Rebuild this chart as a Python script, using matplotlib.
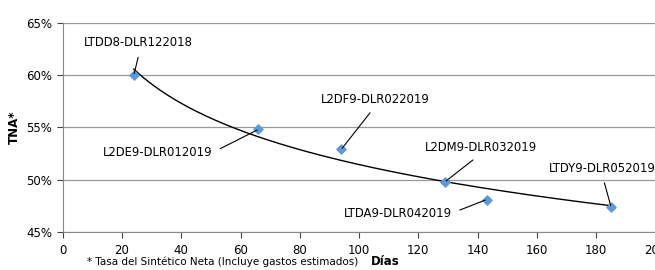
import numpy as np
import matplotlib
matplotlib.use("Agg")
import matplotlib.pyplot as plt
from matplotlib.ticker import FuncFormatter

# plazo (dias) vs TNA
labels = ['LTDD8-DLR122018', 'L2DE9-DLR012019', 'L2DF9-DLR022019',
          'L2DM9-DLR032019', 'LTDA9-DLR042019', 'LTDY9-DLR052019']
dias = [24, 66, 94, 129, 143, 185]
tna = [60.0, 54.8, 52.9, 49.8, 48.1, 47.4]

# label placement (data coords), alignment and leader start on the text box
label_pos = [(25.4, 63.1, 'center', (0.52, 0.0)), (50.6, 52.6, 'right', (1.0, 0.5)),
             (105.6, 57.7, 'center', (0.5, 0.0)), (141.1, 53.1, 'center', (0.5, 0.0)),
             (131.3, 46.8, 'right', (1.0, 0.5)), (164.0, 51.1, 'left', (0.5, 0.0))]

plt.rcParams['font.family'] = ['DejaVu Sans']
fig = plt.figure(figsize=(6.55, 2.7), dpi=100)
ax = fig.add_axes([0.0957, 0.1407, 0.905, 0.775])

# logarithmic trendline
a, b = np.polyfit(np.log(dias), tna, 1)
xs = np.linspace(min(dias), max(dias), 200)
ax.plot(xs, a * np.log(xs) + b, color='black', lw=1, zorder=2)

ax.scatter(dias, tna, marker='D', s=22, color='#5B9BD5', zorder=3)

for name, x, y, (tx, ty, ha, rp) in zip(labels, dias, tna, label_pos):
    ax.annotate(name, xy=(x, y), xytext=(tx, ty), ha=ha, va='center',
                fontsize=8.4, color='black',
                arrowprops=dict(arrowstyle='-', color='black', lw=0.8,
                                relpos=rp, shrinkA=4, shrinkB=1))

ax.set_xlim(0, 200)
ax.set_ylim(45, 65)
ax.set_xticks(range(0, 201, 20))
ax.set_yticks(range(45, 66, 5))
ax.yaxis.set_major_formatter(FuncFormatter(lambda v, p: f'{v:.0f}%'))
ax.tick_params(labelsize=8.5, colors='#444444', labelcolor='black', length=4, width=0.8)
ax.tick_params(axis='x', pad=4.5)
ax.grid(axis='y', color='#999999', lw=0.9)
ax.set_axisbelow(True)
for s in ['top', 'right']:
    ax.spines[s].set_visible(False)
for s in ['left', 'bottom']:
    ax.spines[s].set_color('#888888')

ax.set_ylabel('TNA*', fontsize=8.5, fontweight='bold', labelpad=4)
fig.text(0.588, 0.008, 'Días', fontsize=8.5, fontweight='bold', ha='center', va='bottom')
fig.text(0.133, 0.012, '* Tasa del Sintético Neta (Incluye gastos estimados)',
         fontsize=7.5, ha='left', va='bottom')

fig.savefig('out.png', dpi=100)
